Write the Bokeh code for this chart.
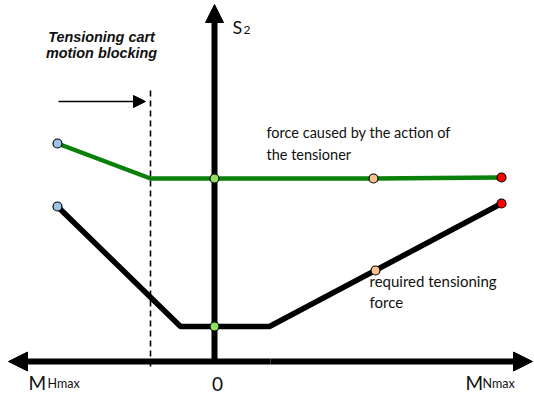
from bokeh.plotting import figure
from bokeh.models import Range1d, Arrow, NormalHead, ColumnDataSource
from bokeh.core.properties import value
from bokeh.embed import file_html
from bokeh.resources import INLINE

# --- diagram data (moment on x, force S2 on y; origin at the axes crossing) ---
green_moment = [-157, -64, 0, 159, 287]
green_force = [218, 183, 183, 183, 184]
black_moment = [-157, -34, 55, 287]
black_force = [155, 35, 35, 158]

dot_moment = [-157, -157, 0, 0, 159, 161, 287, 287]
dot_force = [218, 155, 183, 35, 183, 91, 184, 158]
dot_kind = ["left", "left", "zero", "zero", "mid", "mid", "right", "right"]

block_moment = -64          # tensioning cart motion blocking position
block_span = [-5, 274]
motion_arrow_x = [-156, -69]
motion_arrow_y = 260

x_axis_span = [-206, 318]
y_axis_span = [0, 357]

x_tick_labels = ["M", "0", "M"]
x_tick_subs = ["Hmax", "", "Nmax"]

kind_colors = {"left": "#9dc3e6", "zero": "#92e060", "mid": "#fac090", "right": "#ff0000"}

p = figure(width=534, height=397, x_range=Range1d(-214, 320), y_range=Range1d(-36, 361),
           output_backend="svg", toolbar_location=None, min_border=0,
           x_axis_location=None, y_axis_location=None, outline_line_color=None)
p.xgrid.grid_line_color = None
p.ygrid.grid_line_color = None

# axes with arrow heads
def axis_arrow(x0, y0, x1, y1, size):
    p.add_layout(Arrow(end=NormalHead(size=size, fill_color="black", line_color="black"),
                       x_start=x0, y_start=y0, x_end=x1, y_end=y1,
                       line_width=6, line_color="black", level="underlay"))

mid_x = sum(x_axis_span) / 2
axis_arrow(mid_x, 0, x_axis_span[1], 0, 19)
axis_arrow(mid_x, 0, x_axis_span[0], 0, 19)
axis_arrow(0, y_axis_span[0], 0, y_axis_span[1], 18)

# blocking dashed line and motion arrow
p.line([block_moment, block_moment], block_span, line_color="black", line_width=1.6, line_dash="6 4")
p.add_layout(Arrow(end=NormalHead(size=12, fill_color="black", line_color="black"),
                   x_start=motion_arrow_x[0], y_start=motion_arrow_y,
                   x_end=motion_arrow_x[1], y_end=motion_arrow_y,
                   line_width=1.6, line_color="black", level="underlay"))

# curves
p.line(green_moment, green_force, line_color="#0b800b", line_width=4.5)
p.line(black_moment, black_force, line_color="black", line_width=5.5)

src = ColumnDataSource(dict(x=dot_moment, y=dot_force, c=[kind_colors[k] for k in dot_kind]))
p.scatter("x", "y", source=src, size=9, fill_color="c", line_color="black", line_width=1.2)

# texts
TXT = "#111111"
p.text(x=[-113, -113], y=[325, 309], text=["Tensioning cart", "motion blocking"],
       text_font=value("Liberation Sans"), text_font_style="bold italic", text_font_size="14.4px",
       text_align="center", text_baseline="alphabetic", text_color=TXT)
p.text(x=[18], y=[335], text=["S"], text_font=value("Lato"), text_font_size="18px",
       text_baseline="alphabetic", text_color=TXT)
p.text(x=[29], y=[332], text=["2"], text_font=value("Lato"), text_font_size="12px",
       text_baseline="alphabetic", text_color=TXT)
p.text(x=[52, 52], y=[229, 207], text=["force caused by the action of", "the tensioner"],
       text_font=value("Lato"), text_font_size="14.5px", text_baseline="alphabetic", text_color=TXT)
p.text(x=[155, 155], y=[81, 60], text=["required tensioning", "force"],
       text_font=value("Lato"), text_font_size="15px", text_baseline="alphabetic", text_color=TXT)

# x tick labels
p.text(x=[-186], y=[-21], text=[x_tick_labels[0]], text_font=value("Lato"), text_font_size="19px",
       text_baseline="alphabetic", text_color=TXT)
p.text(x=[-167], y=[-22], text=[x_tick_subs[0]], text_font=value("Lato"), text_font_size="12.5px",
       text_baseline="alphabetic", text_color=TXT)
p.text(x=[3], y=[-22], text=[x_tick_labels[1]], text_font=value("Lato"), text_font_size="19px",
       text_align="center", text_baseline="alphabetic", text_color=TXT)
p.text(x=[251], y=[-21], text=[x_tick_labels[2]], text_font=value("Lato"), text_font_size="19px",
       text_baseline="alphabetic", text_color=TXT)
p.text(x=[268], y=[-22], text=[x_tick_subs[2]], text_font=value("Lato"), text_font_size="12.5px",
       text_baseline="alphabetic", text_color=TXT)

open("out.html", "w").write(file_html(p, INLINE))
